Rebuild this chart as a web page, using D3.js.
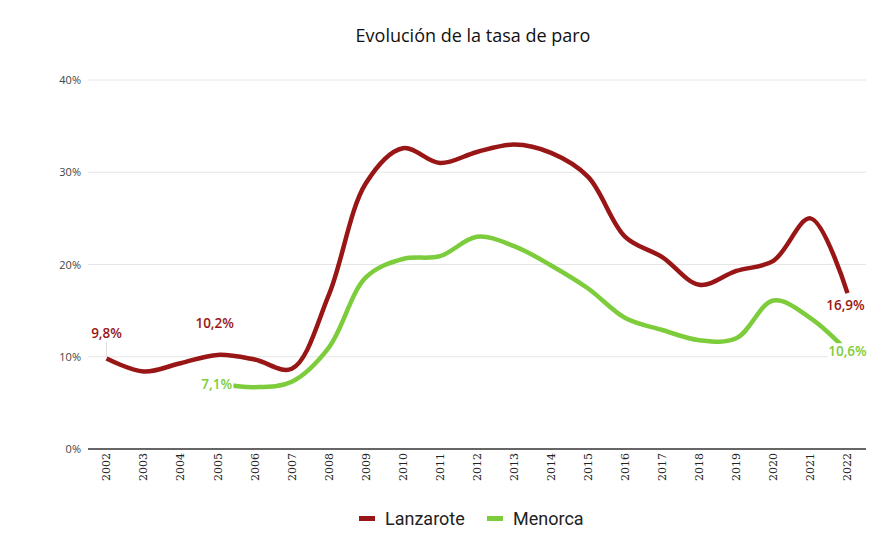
<!DOCTYPE html>
<html>
<head>
<meta charset="utf-8">
<script src="https://cdn.jsdelivr.net/npm/d3@7"></script>
<style>
  body { margin: 0; background: #fff; }
  svg { display: block; }
</style>
</head>
<body>
<script>
var years = ['2002', '2003', '2004', '2005', '2006', '2007', '2008', '2009', '2010', '2011', '2012',
             '2013', '2014', '2015', '2016', '2017', '2018', '2019', '2020', '2021', '2022'],
    lanzarote = [9.8, 8.4, 9.3, 10.2, 9.7, 8.7, 16.7, 28.8, 32.6, 31.0, 32.2,
                 33.0, 32.1, 29.5, 23.0, 20.8, 17.8, 19.3, 20.4, 25.0, 16.9],
    menorca = [null, null, null, 7.1, 6.7, 7.3, 11.0, 18.6, 20.6, 20.9, 23.0,
               22.0, 19.9, 17.4, 14.2, 12.9, 11.8, 12.0, 16.1, 14.2, 10.6],
    yTicks = [0, 10, 20, 30, 40],
    seriesNames = ['Lanzarote', 'Menorca'],
    colors = ['#991616', '#7ccc3b'],
    width = 890, height = 539, margin, x, y, svg, chart, line, fmt;

margin = {left: 88, right: 24, top: 80, bottom: 90};

x = d3.scaleBand()
      .domain(years)
      .range([margin.left, width - margin.right]);

y = d3.scaleLinear()
      .domain([0, 40])
      .range([height - margin.bottom, margin.top]);

fmt = function (v) { return String(v.toFixed(1)).replace('.', ',') + '%'; };

svg = d3.select("body").append("svg").attr("width", width).attr("height", height);

// title
svg.append("text")
   .attr("x", 473).attr("y", 42)
   .attr("text-anchor", "middle")
   .style("font-family", "'Open Sans', sans-serif")
   .style("font-size", "18px")
   .attr("fill", "#111")
   .text("Evolución de la tasa de paro");

// gridlines + y labels
var grid = svg.append("g");
grid.selectAll("line").data(yTicks).enter().append("line")
    .attr("x1", margin.left).attr("x2", width - margin.right)
    .attr("y1", function (d) { return y(d); })
    .attr("y2", function (d) { return y(d); })
    .attr("stroke", function (d) { return d === 0 ? "#333" : "#e6e6e6"; })
    .attr("stroke-width", function (d) { return d === 0 ? 1.3 : 1; });
grid.selectAll("text").data(yTicks).enter().append("text")
    .attr("x", margin.left - 7)
    .attr("y", function (d) { return y(d) + 4; })
    .attr("text-anchor", "end")
    .style("font-family", "'Open Sans', sans-serif")
    .style("font-size", "11px")
    .attr("fill", "#444")
    .text(function (d) { return d + "%"; });

// x axis labels, rotated
var xAxis = d3.axisBottom(x).tickSize(0).tickPadding(0);
var xg = svg.append("g")
    .attr("transform", "translate(0," + (height - margin.bottom) + ")")
    .call(xAxis);
xg.select(".domain").remove();
xg.selectAll("text")
  .attr("transform", "translate(0,4) rotate(-90)")
  .attr("x", 0).attr("y", 0).attr("dy", "0.35em")
  .attr("text-anchor", "end")
  .style("font-family", "'DejaVu Serif', 'Liberation Serif', serif")
  .style("font-size", "11px")
  .attr("fill", "#222");

line = d3.line()
  .defined(function (d) { return d != null; })
  .x(function (d, i) { return x(years[i]) + x.bandwidth() / 2; })
  .y(function (d) { return y(d); })
  .curve(d3.curveCatmullRom.alpha(0.5));

chart = svg.append("g");
[lanzarote, menorca].forEach(function (s, k) {
  chart.append("path")
       .attr("d", line(s))
       .attr("fill", "none")
       .attr("stroke", colors[k])
       .attr("stroke-width", 4.5)
       .attr("stroke-linecap", "butt");
});

// value labels
var cx = function (yr) { return x(yr) + x.bandwidth() / 2; };
var labels = [
  {s: 0, yr: '2002', v: lanzarote[0], dx: 0, dy: -21, bg: false, leader: true},
  {s: 0, yr: '2005', v: lanzarote[3], dx: -3, dy: -27, bg: false},
  {s: 1, yr: '2005', v: menorca[3], dx: -1, dy: 5, bg: true},
  {s: 0, yr: '2022', v: lanzarote[20], dx: -2, dy: 17, bg: false},
  {s: 1, yr: '2022', v: menorca[20], dx: 0, dy: 5, bg: true}
];
var lg = svg.append("g");
labels.forEach(function (l) {
  var px = cx(l.yr), py = y(l.v);
  if (l.leader) {
    lg.append("line")
      .attr("x1", px).attr("x2", px)
      .attr("y1", py - 2).attr("y2", py + l.dy + 4)
      .attr("stroke", "#ddd").attr("stroke-width", 1);
  }
  var t = lg.append("text")
    .attr("x", px + l.dx).attr("y", py + l.dy)
    .attr("text-anchor", "middle")
    .style("font-family", "'Open Sans', sans-serif")
    .style("font-size", "13.5px")
    .style("font-weight", 600)
    .attr("fill", colors[l.s])
    .text(fmt(l.v));
  if (l.bg) {
    var b = t.node().getBBox();
    lg.insert("rect", function () { return t.node(); })
      .attr("x", b.x - 1).attr("y", b.y + 1)
      .attr("width", b.width + 2).attr("height", b.height - 2)
      .attr("fill", "#fff");
  }
});

// legend
var legend = svg.append("g");
var lx = [359, 487];
seriesNames.forEach(function (n, k) {
  legend.append("rect")
    .attr("x", lx[k]).attr("y", 516)
    .attr("width", 16).attr("height", 5)
    .attr("fill", colors[k]);
  legend.append("text")
    .attr("x", lx[k] + 26).attr("y", 525)
    .style("font-family", "Roboto, sans-serif")
    .style("font-size", "18px")
    .attr("fill", "#222")
    .text(n);
});
</script>
</body>
</html>
